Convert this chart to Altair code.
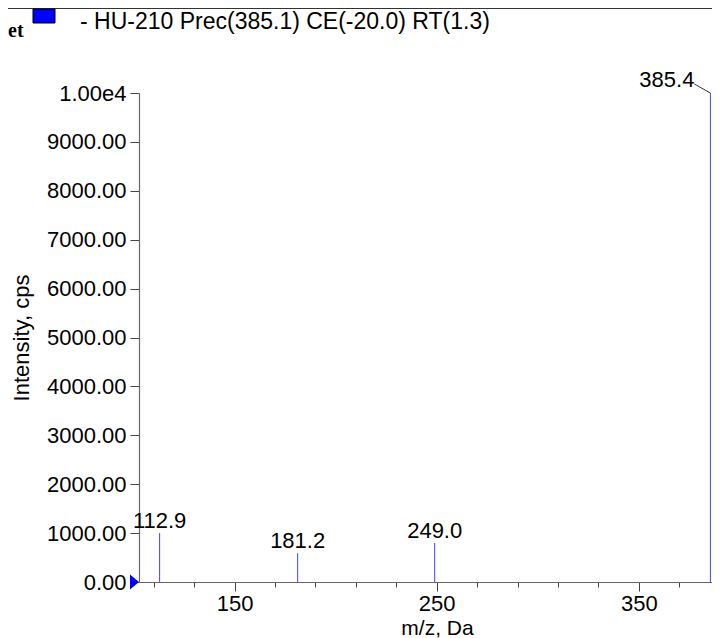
import altair as alt
import pandas as pd

# ---- data ----
mz = [112.9, 181.2, 249.0, 385.4]
intensity = [1000, 590, 800, 10000]
peak_labels = ["112.9", "181.2", "249.0", "385.4"]

x_min, x_max = 102.7, 386.2
x_ticks = list(range(110, 390, 10))
y_ticks = list(range(0, 10500, 500))

header_text = "- HU-210 Prec(385.1) CE(-20.0) RT(1.3)"
x_title = "m/z, Da"
y_title = "Intensity, cps"

df = pd.DataFrame({"mz": mz, "intensity": intensity, "label": peak_labels})
df_low = df[df["intensity"] < 5000]
df_top = df[df["intensity"] >= 5000]
df_origin = pd.DataFrame({"mz": [x_min], "intensity": [0]})

FONT = "Liberation Sans"
BLUE = "#0000ff"
STICK = "#4040ff"

xs = alt.Scale(domain=[x_min, x_max], nice=False, zero=False)
ys = alt.Scale(domain=[0, 10000], nice=False)

x_axis = alt.Axis(
    values=x_ticks,
    labelExpr="datum.value % 50 === 0 ? datum.value : ''",
    tickSize={"condition": {"test": "datum.value % 50 === 0", "value": 9}, "value": 5},
    labelPadding=2,
    title=x_title,
    titlePadding=3,
    titleX=298,
    titleFontSize=21,
    labelFlush=False,
    labelOverlap=False,
)
y_axis = alt.Axis(
    values=y_ticks,
    labelExpr="datum.value % 1000 === 0 ? (datum.value === 10000 ? '1.00e4' : format(datum.value, '.2f')) : ''",
    tickSize={"condition": {"test": "datum.value % 1000 === 0", "value": 9}, "value": 4},
    labelPadding=4,
    title=y_title,
    titlePadding=13,
    labelOverlap=False,
    labelFlush=False,
)

base = alt.Chart(df)

sticks = base.mark_rule(color=STICK, strokeWidth=1).encode(
    x=alt.X("mz:Q", scale=xs, axis=x_axis),
    y=alt.Y("intensity:Q", scale=ys, axis=y_axis),
    y2=alt.datum(0),
)

low_labels = alt.Chart(df_low).mark_text(
    font=FONT, fontSize=22, baseline="alphabetic", align="center", dy=-5, color="black"
).encode(x=alt.X("mz:Q", scale=xs), y=alt.Y("intensity:Q", scale=ys), text="label:N")

top_label = alt.Chart(df_top).mark_text(
    font=FONT, fontSize=22, baseline="alphabetic", align="right", dx=-16, dy=-6, color="black"
).encode(x=alt.X("mz:Q", scale=xs), y=alt.Y("intensity:Q", scale=ys), text="label:N")

leader = alt.Chart(df_top).mark_rule(
    color="black", strokeWidth=0.8, x2Offset=-16, y2Offset=-9
).encode(
    x=alt.X("mz:Q", scale=xs), y=alt.Y("intensity:Q", scale=ys),
    x2="mz:Q", y2="intensity:Q",
)

marker = alt.Chart(df_origin).mark_point(
    shape="M-0.6,-1L0.6,0L-0.6,1Z", filled=True, color=BLUE, opacity=1,
    size=225, xOffset=-4.5, strokeWidth=0,
).encode(x=alt.X("mz:Q", scale=xs), y=alt.Y("intensity:Q", scale=ys))

# header (legend-like strip above the plot)
hdr = pd.DataFrame({"t": [header_text]})
header_box = alt.Chart(hdr).mark_rect(color=BLUE, stroke="black", strokeWidth=1).encode(
    x=alt.value(-106), x2=alt.value(-84), y=alt.value(-84), y2=alt.value(-70)
)
header_txt = alt.Chart(hdr).mark_text(
    font=FONT, fontSize=23, align="left", baseline="middle", color="black"
).encode(x=alt.value(-59), y=alt.value(-71), text="t:N")
header_line = alt.Chart(hdr).mark_rule(color="#333333", strokeWidth=1).encode(
    x=alt.value(-131), x2=alt.value(573), y=alt.value(-84.5)
)
corner = pd.DataFrame({"t": ["et"]})
corner_txt = alt.Chart(corner).mark_text(
    font="Liberation Serif", fontSize=20, fontWeight="bold", align="left",
    baseline="middle", color="black"
).encode(x=alt.value(-131), y=alt.value(-62), text="t:N")

chart = alt.layer(
    sticks, low_labels, top_label, leader, marker,
    header_line, header_box, header_txt, corner_txt,
).properties(
    width=573, height=489,
    autosize=alt.AutoSizeParams(type="none"),
    padding={"left": 131, "top": 85, "right": 0, "bottom": 56},
).configure_view(strokeWidth=0).configure_axis(
    grid=False,
    domainColor="#666666",
    tickColor="#444444",
    domainWidth=1.2,
    tickWidth=1,
    labelFont=FONT,
    labelFontSize=22,
    labelColor="black",
    titleFont=FONT,
    titleFontSize=22,
    titleFontWeight="normal",
    titleColor="black",
)

chart.save("out.html", embed_options={"renderer": "svg", "actions": False})
